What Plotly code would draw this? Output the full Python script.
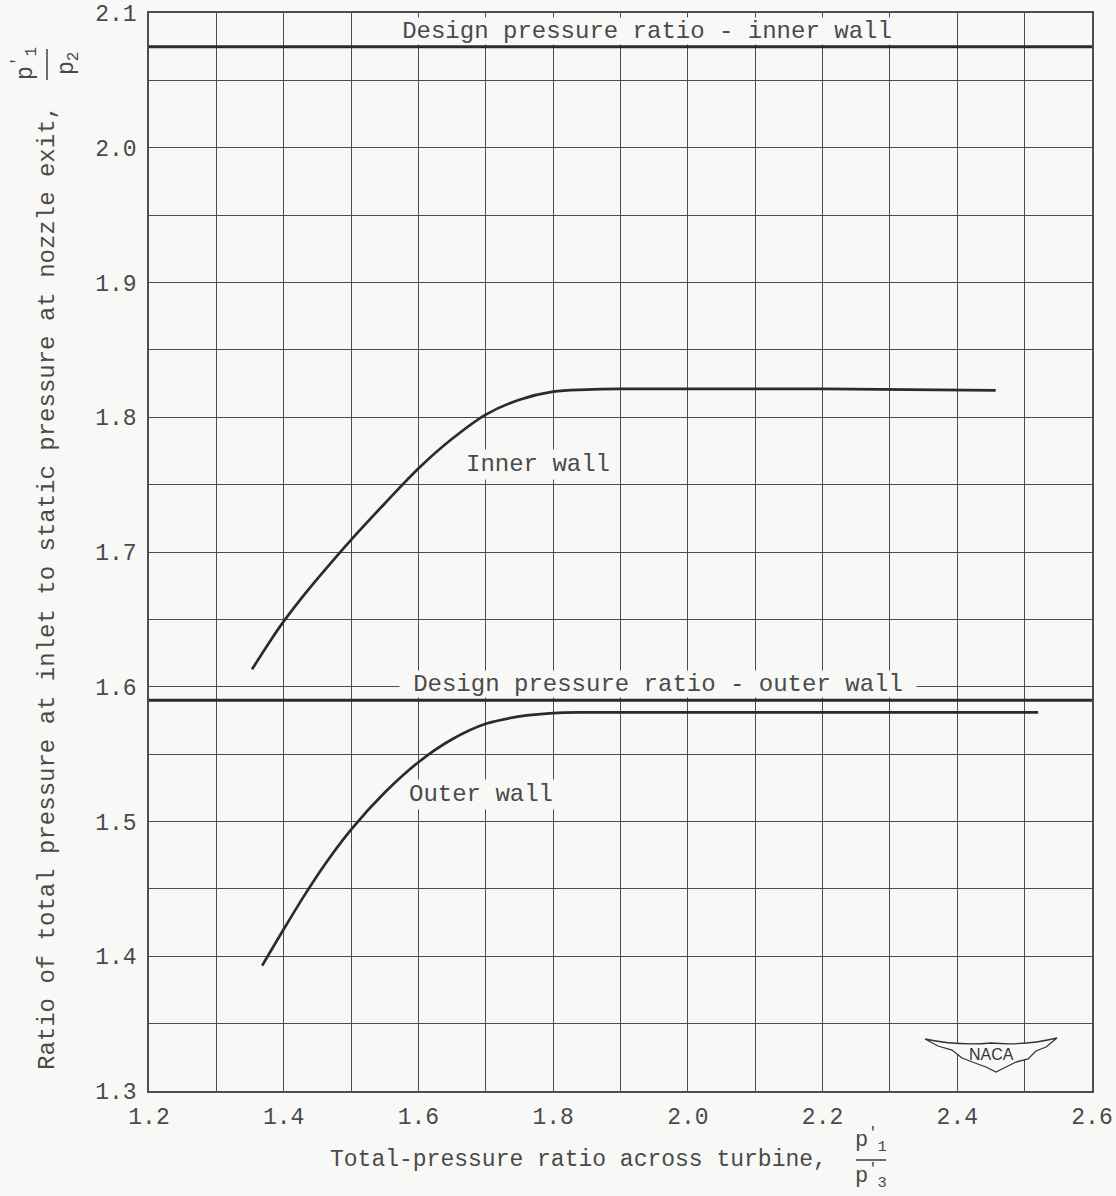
import plotly.graph_objects as go

# ---- data ----
inner_x = [1.353, 1.38, 1.40, 1.43, 1.46, 1.50, 1.55, 1.60, 1.65, 1.70, 1.75, 1.80, 1.85, 1.90, 2.00, 2.20, 2.457]
inner_y = [1.613, 1.634, 1.6485, 1.668, 1.686, 1.709, 1.736, 1.762, 1.784, 1.802, 1.813, 1.819, 1.8205, 1.821, 1.821, 1.821, 1.820]

outer_x = [1.368, 1.40, 1.43, 1.46, 1.50, 1.55, 1.60, 1.65, 1.70, 1.75, 1.80, 1.85, 1.90, 2.00, 2.20, 2.40, 2.52]
outer_y = [1.393, 1.420, 1.4446, 1.4674, 1.494, 1.5215, 1.544, 1.561, 1.5725, 1.578, 1.5805, 1.581, 1.581, 1.581, 1.581, 1.581, 1.581]

x_range = [1.2, 2.6]
y_range = [1.3, 2.1]
design_inner = 2.075
design_outer = 1.59

x_tick_vals = [1.2, 1.4, 1.6, 1.8, 2.0, 2.2, 2.4, 2.6]
y_tick_vals = [1.3, 1.4, 1.5, 1.6, 1.7, 1.8, 1.9, 2.0, 2.1]

# ---- styling ----
W, H = 1116, 1196
ML, MR, MT, MB = 149, 24, 13, 105
PW, PH = W - ML - MR, H - MT - MB
FONT = "Liberation Mono, DejaVu Sans Mono, monospace"
TXT = "#4a4a4a"
LINE = "#2b2b2b"
GRID = "#4d4d4d"
BG = "#f8f8f6"


def px(xpix):
    return (xpix - ML) / PW


def py(ypix):
    return (H - MB - ypix) / PH


fig = go.Figure()

fig.add_trace(go.Scatter(x=x_range, y=[design_inner] * 2, mode="lines",
                         line=dict(color=LINE, width=3), hoverinfo="skip"))
fig.add_trace(go.Scatter(x=x_range, y=[design_outer] * 2, mode="lines",
                         line=dict(color=LINE, width=3), hoverinfo="skip"))
fig.add_trace(go.Scatter(x=inner_x, y=inner_y, mode="lines",
                         line=dict(color=LINE, width=2.7, shape="spline", smoothing=1.0)))
fig.add_trace(go.Scatter(x=outer_x, y=outer_y, mode="lines",
                         line=dict(color=LINE, width=2.7, shape="spline", smoothing=1.0)))

annots = []
# design-line labels: box sits just above each design line and breaks the grid
annots.append(dict(text="Design pressure ratio - inner wall", x=1.94, y=design_inner + 0.0015,
                   xref="x", yref="y", xanchor="center", yanchor="bottom", showarrow=False,
                   font=dict(family=FONT, size=24, color=TXT), bgcolor=BG,
                   height=26, width=492, borderpad=0))
annots.append(dict(text="Design pressure ratio - outer wall", x=1.955, y=design_outer + 0.0015,
                   xref="x", yref="y", xanchor="center", yanchor="bottom", showarrow=False,
                   font=dict(family=FONT, size=24, color=TXT), bgcolor=BG,
                   height=26, width=516, borderpad=0))
for txt, ax, ay in [("Inner wall", 1.777, 1.765), ("Outer wall", 1.693, 1.520)]:
    annots.append(dict(text=txt, x=ax, y=ay, xref="x", yref="y", xanchor="center", yanchor="middle",
                       showarrow=False, font=dict(family=FONT, size=24, color=TXT),
                       bgcolor=BG, borderpad=1))

# y-axis title
annots.append(dict(text="Ratio of total pressure at inlet to static pressure at nozzle exit,",
                   x=px(47), y=py(588), xref="paper", yref="paper", xanchor="center", yanchor="middle",
                   showarrow=False, textangle=-90, font=dict(family=FONT, size=24, color=TXT)))
annots.append(dict(text="p<sup>'</sup><sub>1</sub>", x=px(25), y=py(64), xref="paper", yref="paper",
                   xanchor="center", yanchor="middle",
                   showarrow=False, textangle=-90, font=dict(family=FONT, size=23, color=TXT)))
annots.append(dict(text="p<sub>2</sub>", x=px(69), y=py(64), xref="paper", yref="paper",
                   xanchor="center", yanchor="middle",
                   showarrow=False, textangle=-90, font=dict(family=FONT, size=23, color=TXT)))

# x-axis title
annots.append(dict(text="Total-pressure ratio across turbine,", x=px(578), y=py(1160),
                   xref="paper", yref="paper", xanchor="center", yanchor="middle", showarrow=False,
                   font=dict(family=FONT, size=23, color=TXT)))
annots.append(dict(text="p<sup>'</sup><sub>1</sub>", x=px(871), y=py(1140), xref="paper", yref="paper",
                   xanchor="center", yanchor="middle",
                   showarrow=False, font=dict(family=FONT, size=22, color=TXT)))
annots.append(dict(text="p<sup>'</sup><sub>3</sub>", x=px(871), y=py(1176), xref="paper", yref="paper",
                   xanchor="center", yanchor="middle",
                   showarrow=False, font=dict(family=FONT, size=22, color=TXT)))

# NACA logo text
annots.append(dict(text="NACA", x=px(991), y=py(1054), xref="paper", yref="paper",
                   xanchor="center", yanchor="middle", showarrow=False,
                   font=dict(family="Liberation Sans, Arial, sans-serif", size=16, color="#333")))

shapes = [
    dict(type="line", xref="paper", yref="paper", x0=px(47), x1=px(47), y0=py(49), y1=py(80),
         line=dict(color=TXT, width=1.6)),
    dict(type="line", xref="paper", yref="paper", x0=px(856), x1=px(886), y0=py(1160), y1=py(1160),
         line=dict(color=TXT, width=1.6)),
]


# NACA wing outline (decoration, in pixel space)
def P(a, b):
    return f"{px(a):.5f},{py(b):.5f}"


wing_path = ("M " + P(925, 1039) + " Q " + P(958, 1046) + " " + P(991, 1043)
             + " Q " + P(1024, 1046) + " " + P(1057, 1038)
             + " L " + P(1046, 1047) + " L " + P(1036, 1051) + " L " + P(1028, 1059)
             + " L " + P(1016, 1062) + " L " + P(1006, 1067) + " L " + P(996, 1072)
             + " L " + P(986, 1067) + " L " + P(975, 1063) + " L " + P(962, 1058)
             + " L " + P(952, 1050) + " L " + P(938, 1046) + " Z")
shapes.append(dict(type="path", xref="paper", yref="paper", path=wing_path,
                   line=dict(color="#333", width=1.3), fillcolor=BG, layer="above"))

axis_common = dict(showline=True, linecolor=GRID, linewidth=1.6, mirror=True,
                   showgrid=True, gridcolor=GRID, gridwidth=1.3, zeroline=False,
                   automargin=False, ticks="", tickfont=dict(family=FONT, size=23, color=TXT))

fig.update_layout(
    width=W, height=H,
    margin=dict(l=ML, r=MR, t=MT, b=MB),
    paper_bgcolor=BG, plot_bgcolor=BG,
    showlegend=False,
    xaxis=dict(range=x_range, tickvals=x_tick_vals, tickformat=".1f",
               minor=dict(dtick=0.1, showgrid=True, gridcolor=GRID, gridwidth=1.3),
               ticklabelstandoff=4, **axis_common),
    yaxis=dict(range=y_range, tickvals=y_tick_vals, tickformat=".1f",
               minor=dict(dtick=0.05, showgrid=True, gridcolor=GRID, gridwidth=1.3),
               ticklabelstandoff=6, **axis_common),
    annotations=annots,
    shapes=shapes,
)

fig.write_html("out.html")
